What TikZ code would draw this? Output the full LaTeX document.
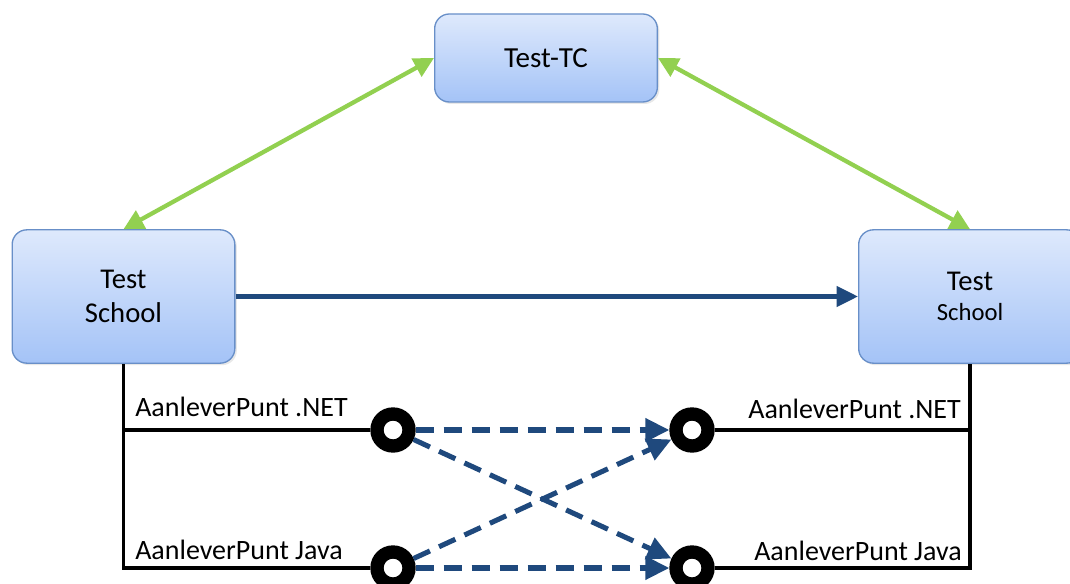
\documentclass[tikz,border=0pt]{standalone}
\usepackage{fontspec}
\setmainfont{Carlito}
\usetikzlibrary{arrows.meta,positioning,shadows}
\definecolor{boxtop}{RGB}{222,233,252}
\definecolor{boxbot}{RGB}{164,195,247}
\definecolor{boxline}{RGB}{104,143,200}
\definecolor{leaf}{RGB}{146,208,80}
\definecolor{navy}{RGB}{31,73,125}
\tikzset{
  every picture/.style={x=0.75pt, y=-0.75pt},
  box/.style={draw=boxline, line width=1pt, rounded corners=11pt, top color=boxtop, bottom color=boxbot,
    minimum width=167pt, align=center, inner sep=0pt,
    drop shadow={opacity=0.18, shadow xshift=1.5pt, shadow yshift=-1.5pt}},
  hub/.style={box, minimum height=66pt, font=\fontsize{21.8}{24}\selectfont},
  school/.style={box, minimum height=100pt, font=\fontsize{21.5}{25}\selectfont},
  port/.style={circle, draw=black, line width=10pt, fill=white, minimum size=24pt, inner sep=0pt},
  tag/.style={font=\fontsize{21}{22}\selectfont, inner sep=0pt},
  sync/.style={{Triangle[length=15pt,width=15pt]}-{Triangle[length=15pt,width=15pt]}, color=leaf, line width=3.2pt},
  push/.style={-{Triangle[length=16pt,width=15pt]}, color=navy, line width=3.2pt},
  call/.style={-{Triangle[length=18pt,width=17pt]}, color=navy, line width=3.8pt, dash pattern=on 13.5pt off 7.5pt},
  wire/.style={draw=black, line width=2.3pt},
}

\begin{document}
\begin{tikzpicture}
  \useasboundingbox (0,0) rectangle (1070,584);
  \node[hub] (tc) at (546,58) {Test-TC};
  \node[school] (ls) at (123.5,296.5) {Test\\School};
  \node[school, font=\fontsize{21.5}{23}\selectfont] (rs) at (970,296.5) {Test\\{\fontsize{18.5}{20}\selectfont School}};
  % aanleverpunten
  \node[port] (nl) at (393,430) {};
  \node[port] (jl) at (393,568) {};
  \node[port] (nr) at (692,430) {};
  \node[port] (jr) at (692,568) {};
  \draw[wire] (nl) -| (ls.south);
  \draw[wire] (jl) -| (ls.south);
  \draw[wire] (nr) -| (rs.south);
  \draw[wire] (jr) -| (rs.south);
  \node[tag, anchor=base west] (nlt) at (135,416) {AanleverPunt .NET};
  \node[tag, anchor=base west] (jlt) at (135,559) {AanleverPunt Java};
  \node[tag, anchor=base east] (nrt) at (961,418) {AanleverPunt .NET};
  \node[tag, anchor=base east] (jrt) at (962,560) {AanleverPunt Java};
  % verbindingen
  \draw[sync] (tc.west) -- (ls.north);
  \draw[sync] (tc.east) -- (rs.north);
  \draw[push] (ls.east) -- (rs.west);
  \foreach \a in {nl,jl} { \foreach \b in {nr,jr} { \draw[call] (\a) -- (\b); } }
\end{tikzpicture}
\end{document}
